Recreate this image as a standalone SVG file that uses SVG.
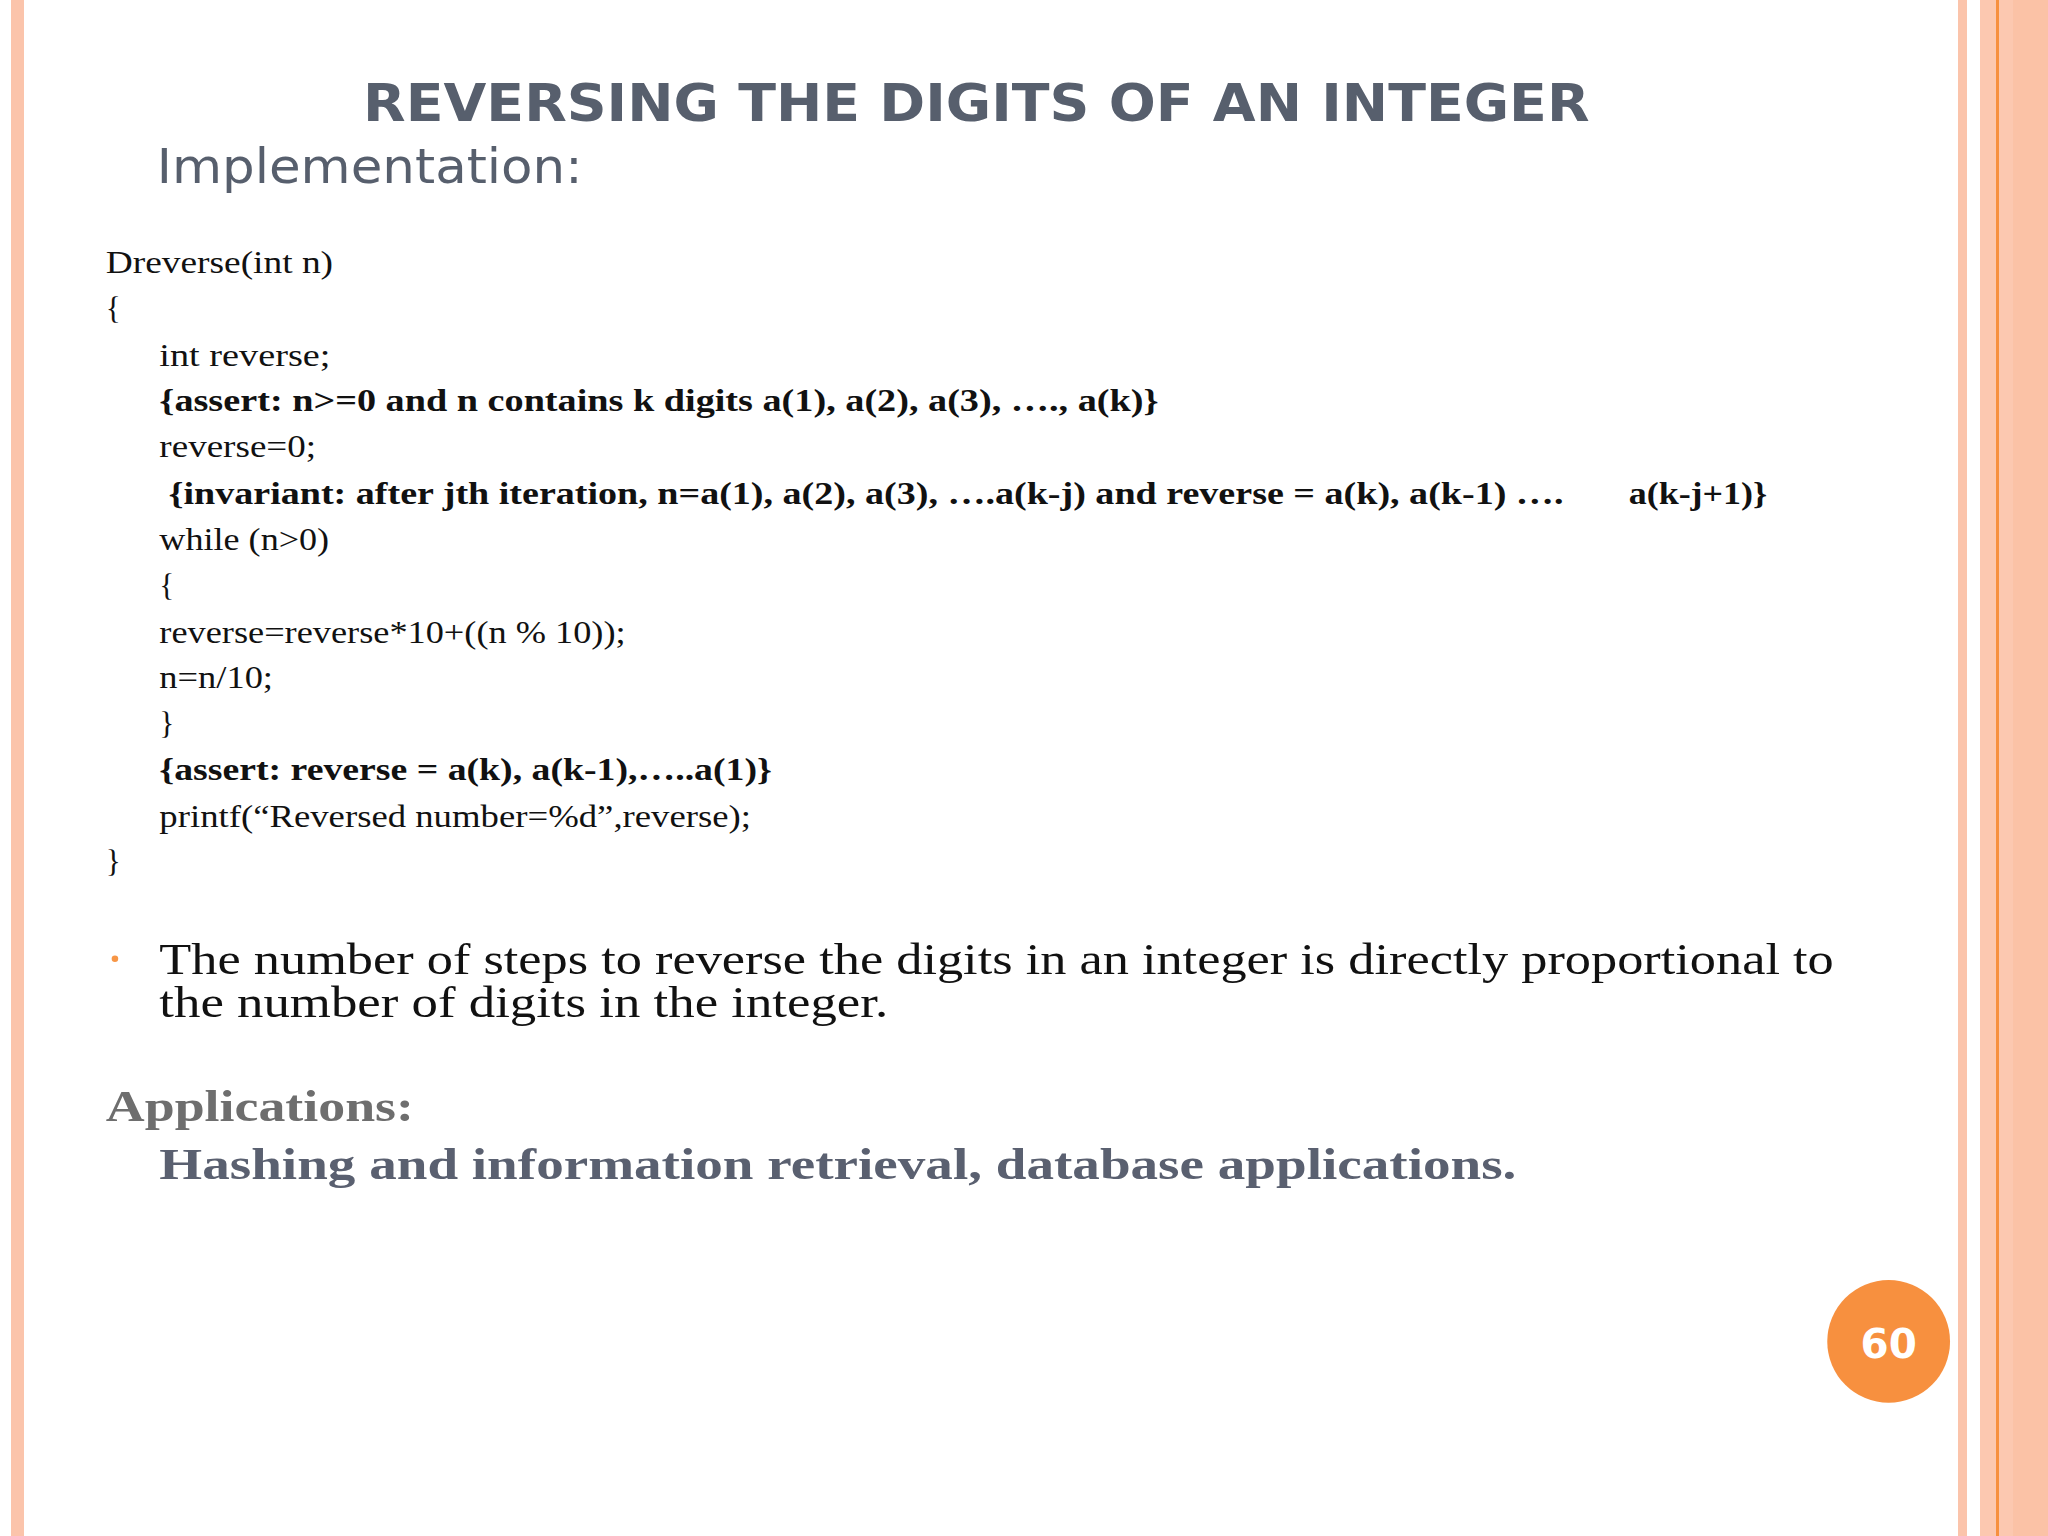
<svg xmlns="http://www.w3.org/2000/svg" width="2048" height="1536" viewBox="0 0 2048 1536">
<style>
.code{font-family:"Liberation Serif",serif;font-size:24px;fill:#111}
.b{font-weight:bold}
</style>
<rect width="2048" height="1536" fill="#fff"/>
<rect x="11" y="0" width="13" height="1536" fill="#fbc4ab"/>
<rect x="1958" y="0" width="9" height="1536" fill="#fbc4ab"/>
<rect x="1980" y="0" width="68" height="1536" fill="#fcc8b0"/>
<rect x="1996" y="0" width="3" height="1536" fill="#f7903f"/>
<rect x="2013" y="0" width="35" height="1536" fill="#fbc2a6"/>
<g transform="scale(1.30612)" lengthAdjust="spacingAndGlyphs">
<g id="title">
<text x="278" y="93" textLength="939" lengthAdjust="spacingAndGlyphs" font-family="'DejaVu Sans',sans-serif" font-weight="bold" font-size="40" fill="#575f6d">REVERSING THE DIGITS OF AN INTEGER</text>
<text x="120" y="140" textLength="326" lengthAdjust="spacingAndGlyphs" font-family="'DejaVu Sans',sans-serif" font-size="37" fill="#575f6d">Implementation:</text>
</g>
<g id="code">
<text class="code" x="81" y="209" textLength="174" lengthAdjust="spacingAndGlyphs">Dreverse(int n)</text>
<text class="code" x="81" y="244">{</text>
<text class="code" x="122" y="280" textLength="131" lengthAdjust="spacingAndGlyphs">int reverse;</text>
<text class="code b" x="122" y="315" textLength="765" lengthAdjust="spacingAndGlyphs">{assert: n&gt;=0 and n contains k digits a(1), a(2), a(3), …., a(k)}</text>
<text class="code" x="122" y="350" textLength="120" lengthAdjust="spacingAndGlyphs">reverse=0;</text>
<text class="code b" x="129" y="386" textLength="1068" lengthAdjust="spacingAndGlyphs">{invariant: after jth iteration, n=a(1), a(2), a(3), ….a(k-j) and reverse = a(k), a(k-1) ….</text>
<text class="code b" x="1247" y="386" textLength="106" lengthAdjust="spacingAndGlyphs">a(k-j+1)}</text>
<text class="code" x="122" y="421" textLength="130" lengthAdjust="spacingAndGlyphs">while (n&gt;0)</text>
<text class="code" x="122" y="456">{</text>
<text class="code" x="122" y="492" textLength="357" lengthAdjust="spacingAndGlyphs">reverse=reverse*10+((n % 10));</text>
<text class="code" x="122" y="527" textLength="87" lengthAdjust="spacingAndGlyphs">n=n/10;</text>
<text class="code" x="122" y="562">}</text>
<text class="code b" x="122" y="597" textLength="469" lengthAdjust="spacingAndGlyphs">{assert: reverse = a(k), a(k-1),…..a(1)}</text>
<text class="code" x="122" y="633" textLength="453" lengthAdjust="spacingAndGlyphs">printf(“Reversed number=%d”,reverse);</text>
<text class="code" x="81" y="668">}</text>
</g>
<g id="bullet">
<circle cx="88" cy="734" r="2.5" fill="#f79646"/>
<text x="122" y="746" textLength="1282" lengthAdjust="spacingAndGlyphs" font-family="'Liberation Serif',serif" font-size="34" fill="#111">The number of steps to reverse the digits in an integer is directly proportional to</text>
<text x="122" y="779" textLength="558" lengthAdjust="spacingAndGlyphs" font-family="'Liberation Serif',serif" font-size="34" fill="#111">the number of digits in the integer.</text>
</g>
<g id="apps">
<text x="81" y="858" textLength="236" lengthAdjust="spacingAndGlyphs" font-family="'Liberation Serif',serif" font-weight="bold" font-size="34" fill="#6e6e6e">Applications:</text>
<text x="122" y="903" textLength="1039" lengthAdjust="spacingAndGlyphs" font-family="'Liberation Serif',serif" font-weight="bold" font-size="34" fill="#5a6070">Hashing and information retrieval, database applications.</text>
</g>
<g id="page">
<circle cx="1446" cy="1027" r="47" fill="#f7903f"/>
<text x="1446" y="1040" text-anchor="middle" font-family="'DejaVu Sans',sans-serif" font-weight="bold" font-size="31" fill="#fff">60</text>
</g>
</g>
</svg>
